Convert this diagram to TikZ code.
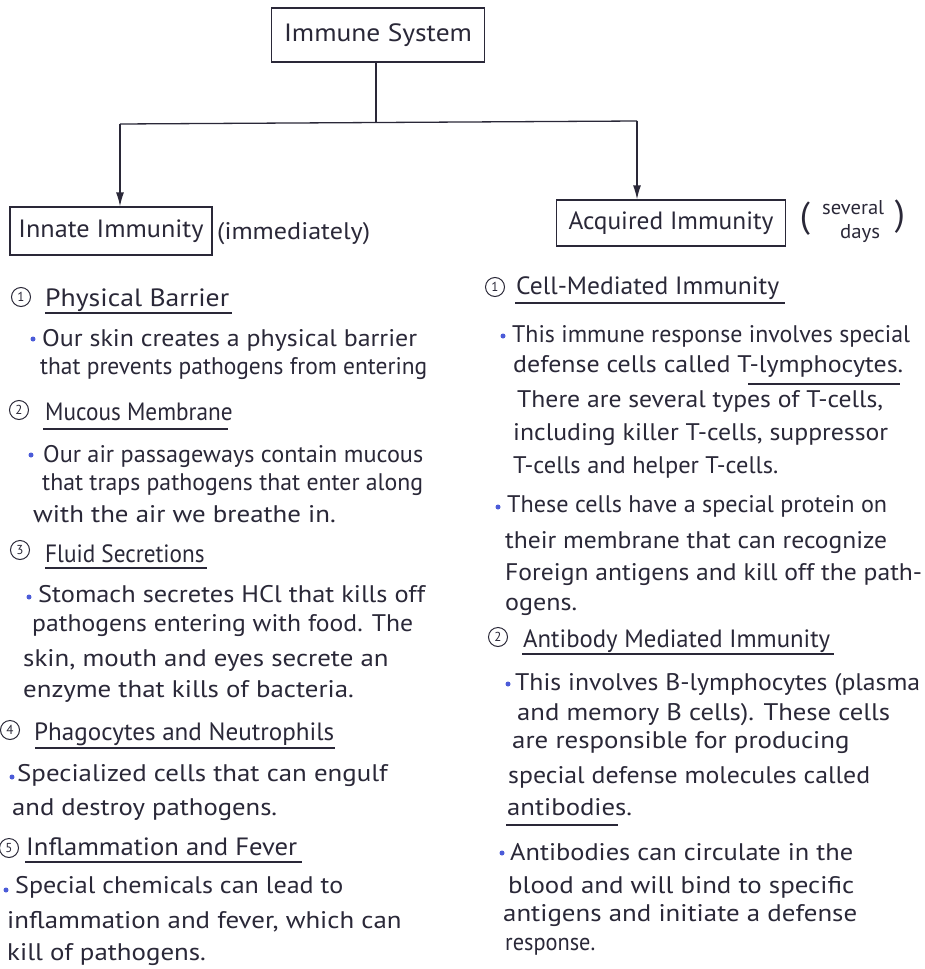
\documentclass[tikz,border=0pt]{standalone}
\usepackage{fontspec}
\usepackage{graphicx}
\setmainfont{PT Sans}
\usetikzlibrary{arrows.meta}
\definecolor{ink}{HTML}{2A2838}
\definecolor{dotblue}{HTML}{4B5BD8}
\newlength\fitlen
\newcommand\fitw[2]{\settowidth{\fitlen}{#2}\pgfmathsetmacro\fitf{max(0.93,min(1.12,#1/\fitlen))}\scalebox{\fitf}[1]{#2}}
\begin{document}
\begin{tikzpicture}[x=1pt,y=-1pt,
  every node/.style={text=ink},
  boxnode/.style={draw=ink, line width=1.3pt, inner sep=0pt, font=\fontsize{25}{30}\selectfont},
  conn/.style={draw=ink, line width=1.3pt},
  arr/.style={conn, -{Latex[length=14pt,width=8pt]}},
  ln/.style={anchor=base west, inner sep=0pt, font=\fontsize{24}{28}\selectfont},
  head/.style={anchor=base west, inner sep=0pt, font=\fontsize{25}{30}\selectfont},
  numc/.style={circle, draw=ink, line width=1pt, inner sep=0pt, minimum size=19pt, font=\fontsize{13}{13}\selectfont},
  dot/.style={circle, fill=dotblue, inner sep=0pt, minimum size=5pt},
  uline/.style={draw=ink, line width=1.3pt},
  paren/.style={inner sep=0pt, font=\fontsize{36}{36}\selectfont}
]
\useasboundingbox[fill=white] (0,0) rectangle (924,969);

% top structure
\node[boxnode, minimum width=213pt, minimum height=54pt] (sys) at (378,35) {\fitw{188}{Immune System}};
\node[boxnode, minimum width=202pt, minimum height=48pt] (innate) at (111,231) {\fitw{185}{Innate Immunity}};
\node[boxnode, minimum width=229pt, minimum height=46pt] (acq) at (671,223) {\fitw{205}{Acquired Immunity}};
\node[anchor=base west, inner sep=0pt, font=\fontsize{24}{28}\selectfont] (imm) at (217,239) {\fitw{153}{(immediately)}};
\node[paren] (po) at (805,219) {(};
\node[anchor=base west, inner sep=0pt, font=\fontsize{20}{24}\selectfont] (sv) at (822,214) {\fitw{62}{several}};
\node[anchor=base west, inner sep=0pt, font=\fontsize{20}{24}\selectfont] (dy) at (840,238) {\fitw{40}{days}};
\node[paren] (pc) at (900,217) {)};

\coordinate (j) at (376,123);
\coordinate (jl) at (120,124);
\coordinate (jr) at (637,121);
\draw[conn] (sys.south -| j) -- (j);
\draw[conn] (jl) -- (jr);
\draw[arr] (jl) -- (jl |- innate.north);
\draw[arr] (jr) -- (jr |- acq.north);

% ---------------- left column
\node[numc] (c1) at (21,297) {1};
\node[head] (h1) at (45,306) {\fitw{184}{Physical Barrier}};
\draw[uline] (45,313) -- (232,313);
\node[dot] (b1) at (33,339) {};
\node[ln] (l1) at (42,346) {\fitw{375}{Our skin creates a physical barrier}};
\node[ln] (l2) at (40,374) {\fitw{387}{that prevents pathogens from entering}};

\node[numc] (c2) at (19,410) {2};
\node[head] (h2) at (45,420) {\fitw{183}{Mucous Membrane}};
\draw[uline] (43,429) -- (228,429);
\node[dot] (b2) at (31,455) {};
\node[ln] (l3) at (43,462) {\fitw{380}{Our air passageways contain mucous}};
\node[ln] (l4) at (42,490) {\fitw{381}{that traps pathogens that enter along}};
\node[ln] (l5) at (33,522) {\fitw{312}{with the air we breathe in.}};

\node[numc] (c3) at (20,550) {3};
\node[head] (h3) at (45,562) {\fitw{157}{Fluid Secretions}};
\draw[uline] (45,568) -- (207,568);
\node[dot] (b3) at (29,597) {};
\node[ln] (l6) at (38,602) {\fitw{387}{Stomach secretes HCl that kills off}};
\node[ln] (l7) at (32,631) {\fitw{381}{pathogens entering with food. The}};
\node[ln] (l8) at (23,666) {\fitw{370}{skin, mouth and eyes secrete an}};
\node[ln] (l9) at (23,697) {\fitw{354}{enzyme that kills of bacteria.}};

\node[numc] (c4) at (10,730) {4};
\node[head] (h4) at (34,740) {\fitw{300}{Phagocytes and Neutrophils}};
\draw[uline] (35,748) -- (335,748);
\node[dot] (b4) at (12,777) {};
\node[ln] (l10) at (17,781) {\fitw{373}{Specialized cells that can engulf}};
\node[ln] (l11) at (12,815) {\fitw{265}{and destroy pathogens.}};

\node[numc] (c5) at (9,848) {5};
\node[head] (h5) at (26,855) {\fitw{271}{Inflammation and Fever}};
\draw[uline] (25,862) -- (302,862);
\node[dot] (b5) at (6,890) {};
\node[ln] (l12) at (15,893) {\fitw{328}{Special chemicals can lead to}};
\node[ln] (l13) at (7,928) {\fitw{405}{inflammation and fever, which can}};
\node[ln] (l14) at (7,960) {\fitw{203}{kill of pathogens.}};

% ---------------- right column
\node[numc] (r1) at (495,287) {1};
\node[head] (g1) at (516,294) {\fitw{263}{Cell-Mediated Immunity}};
\draw[uline] (515,303) -- (785,303);
\node[dot] (d1) at (503,336) {};
\node[ln] (m1) at (512,342) {\fitw{398}{This immune response involves special}};
\node[ln] (m2) at (513,372) {\fitw{390}{defense cells called T-lymphocytes.}};
\draw[uline] (748,384) -- (900,384);
\node[ln] (m3) at (517,407) {\fitw{366}{There are several types of T-cells,}};
\node[ln] (m4) at (513,440) {\fitw{375}{including killer T-cells, suppressor}};
\node[ln] (m5) at (513,473) {\fitw{265}{T-cells and helper T-cells.}};
\node[dot] (d2) at (498,507) {};
\node[ln] (m6) at (507,512) {\fitw{380}{These cells have a special protein on}};
\node[ln] (m7) at (505,548) {\fitw{382}{their membrane that can recognize}};
\node[ln] (m8) at (505,580) {\fitw{417}{Foreign antigens and kill off the path-}};
\node[ln] (m9) at (505,610) {\fitw{72}{ogens.}};

\node[numc] (r2) at (498,637) {2};
\node[head] (g2) at (523,647) {\fitw{307}{Antibody Mediated Immunity}};
\draw[uline] (522,654) -- (834,654);
\node[dot] (d3) at (508,684) {};
\node[ln] (m10) at (515,690) {\fitw{405}{This involves B-lymphocytes (plasma}};
\node[ln] (m11) at (517,720) {\fitw{373}{and memory B cells). These cells}};
\node[ln] (m12) at (512,748) {\fitw{338}{are responsible for producing}};
\node[ln] (m13) at (508,783) {\fitw{362}{special defense molecules called}};
\node[ln] (m14) at (507,815) {\fitw{125}{antibodies.}};
\draw[uline] (506,825) -- (618,825);
\node[dot] (d4) at (502,853) {};
\node[ln] (m15) at (510,860) {\fitw{343}{Antibodies can circulate in the}};
\node[ln] (m16) at (508,893) {\fitw{359}{blood and will bind to specific}};
\node[ln] (m17) at (503,921) {\fitw{404}{antigens and initiate a defense}};
\node[ln] (m18) at (505,950) {\fitw{80}{response.}};
\end{tikzpicture}
\end{document}
